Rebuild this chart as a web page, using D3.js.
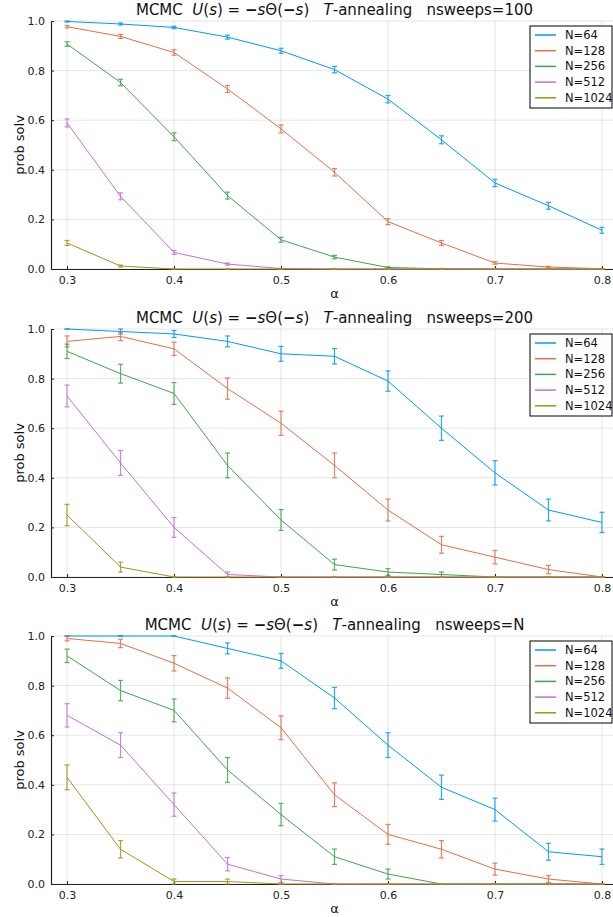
<!DOCTYPE html>
<html>
<head>
<meta charset="utf-8">
<script src="https://cdnjs.cloudflare.com/ajax/libs/d3/7.8.5/d3.min.js"></script>
<style>
  body { margin: 0; background: #fff; }
  svg { font-family: "DejaVu Sans", sans-serif; }
</style>
</head>
<body>
<div id="chart"></div>
<script>
// ---------------- data ----------------
const alphas = [0.3, 0.35, 0.4, 0.45, 0.5, 0.55, 0.6, 0.65, 0.7, 0.75, 0.8];
const seriesNames = ["N=64", "N=128", "N=256", "N=512", "N=1024"];
const sweepLabels = ["100", "200", "N"];

// nsweeps=100
const p100_64   = [0.998, 0.988, 0.974, 0.935, 0.880, 0.804, 0.685, 0.521, 0.347, 0.255, 0.156];
const p100_128  = [0.977, 0.938, 0.873, 0.726, 0.565, 0.390, 0.191, 0.105, 0.024, 0.008, 0.001];
const p100_256  = [0.907, 0.752, 0.533, 0.296, 0.118, 0.048, 0.006, 0.001, 0, 0, 0];
const p100_512  = [0.589, 0.293, 0.067, 0.020, 0.002, 0, 0, 0, 0, 0, 0];
const p100_1024 = [0.105, 0.012, 0, 0, 0, 0, 0, 0, 0, 0, 0];
const e100_64   = [0.002, 0.004, 0.005, 0.008, 0.010, 0.013, 0.015, 0.016, 0.015, 0.014, 0.012];
const e100_128  = [0.005, 0.008, 0.011, 0.014, 0.016, 0.015, 0.012, 0.010, 0.005, 0.003, 0.001];
const e100_256  = [0.009, 0.013, 0.016, 0.014, 0.010, 0.007, 0.002, 0.001, 0, 0, 0];
const e100_512  = [0.016, 0.014, 0.008, 0.004, 0.001, 0, 0, 0, 0, 0, 0];
const e100_1024 = [0.010, 0.004, 0, 0, 0, 0, 0, 0, 0, 0, 0];

// nsweeps=200
const p200_64   = [1.00, 0.99, 0.98, 0.95, 0.90, 0.89, 0.79, 0.60, 0.42, 0.27, 0.22];
const p200_128  = [0.95, 0.97, 0.92, 0.76, 0.62, 0.45, 0.27, 0.13, 0.08, 0.03, 0.00];
const p200_256  = [0.91, 0.82, 0.74, 0.45, 0.23, 0.05, 0.02, 0.01, 0, 0, 0];
const p200_512  = [0.73, 0.46, 0.20, 0.01, 0, 0, 0, 0, 0, 0, 0];
const p200_1024 = [0.25, 0.04, 0, 0, 0, 0, 0, 0, 0, 0, 0];
const e200_64   = [0, 0.010, 0.014, 0.022, 0.030, 0.031, 0.041, 0.049, 0.049, 0.044, 0.041];
const e200_128  = [0.022, 0.017, 0.027, 0.043, 0.049, 0.050, 0.044, 0.034, 0.027, 0.017, 0];
const e200_256  = [0.029, 0.038, 0.044, 0.050, 0.042, 0.022, 0.014, 0.010, 0, 0, 0];
const e200_512  = [0.044, 0.050, 0.040, 0.010, 0, 0, 0, 0, 0, 0, 0];
const e200_1024 = [0.043, 0.020, 0, 0, 0, 0, 0, 0, 0, 0, 0];

// nsweeps=N
const pN_64   = [1.00, 1.00, 1.00, 0.95, 0.90, 0.75, 0.56, 0.39, 0.30, 0.13, 0.11];
const pN_128  = [0.99, 0.97, 0.89, 0.79, 0.63, 0.36, 0.20, 0.14, 0.06, 0.02, 0.00];
const pN_256  = [0.92, 0.78, 0.70, 0.46, 0.28, 0.11, 0.04, 0, 0, 0, 0];
const pN_512  = [0.68, 0.56, 0.32, 0.08, 0.02, 0, 0, 0, 0, 0, 0];
const pN_1024 = [0.43, 0.14, 0.01, 0.01, 0, 0, 0, 0, 0, 0, 0];
const eN_64   = [0, 0, 0, 0.022, 0.030, 0.043, 0.050, 0.049, 0.046, 0.034, 0.031];
const eN_128  = [0.010, 0.017, 0.031, 0.041, 0.048, 0.048, 0.040, 0.035, 0.024, 0.014, 0];
const eN_256  = [0.027, 0.041, 0.046, 0.050, 0.045, 0.031, 0.020, 0, 0, 0, 0];
const eN_512  = [0.047, 0.050, 0.047, 0.027, 0.014, 0, 0, 0, 0, 0, 0];
const eN_1024 = [0.050, 0.035, 0.010, 0.010, 0, 0, 0, 0, 0, 0, 0];

const xTicks = [0.3, 0.4, 0.5, 0.6, 0.7, 0.8];
const yTicks = [0, 0.2, 0.4, 0.6, 0.8, 1.0];

// ---------------- layout ----------------
const W = 613, H = 917;
const left = 51, right = 618;
const plotH = 248;
const panelTops = [21, 329, 636];
const colors = ["#009AFA", "#E36F47", "#3EA44E", "#C371D2", "#AC8E18"];

const panels = [
  { sweeps: sweepLabels[0], p: [p100_64, p100_128, p100_256, p100_512, p100_1024], e: [e100_64, e100_128, e100_256, e100_512, e100_1024] },
  { sweeps: sweepLabels[1], p: [p200_64, p200_128, p200_256, p200_512, p200_1024], e: [e200_64, e200_128, e200_256, e200_512, e200_1024] },
  { sweeps: sweepLabels[2], p: [pN_64, pN_128, pN_256, pN_512, pN_1024], e: [eN_64, eN_128, eN_256, eN_512, eN_1024] }
];

const svg = d3.select("#chart").append("svg")
  .attr("width", W).attr("height", H);

const x = d3.scaleLinear().domain([0.285, 0.815]).range([left, right]);

panels.forEach(function (panel, pi) {
  const top = panelTops[pi];
  const y = d3.scaleLinear().domain([0, 1]).range([top + plotH, top]);
  const g = svg.append("g");

  // grid
  g.append("g").selectAll("line").data(xTicks).enter().append("line")
    .attr("x1", d => x(d)).attr("x2", d => x(d))
    .attr("y1", top).attr("y2", top + plotH)
    .attr("stroke", "#000").attr("stroke-opacity", 0.1).attr("stroke-width", 1);
  g.append("g").selectAll("line").data(yTicks).enter().append("line")
    .attr("x1", left).attr("x2", right)
    .attr("y1", d => y(d)).attr("y2", d => y(d))
    .attr("stroke", "#000").attr("stroke-opacity", 0.1).attr("stroke-width", 1);

  // axes
  const xAxis = d3.axisBottom(x).tickValues(xTicks).tickFormat(d3.format(".1f")).tickSizeInner(-3).tickSizeOuter(0).tickPadding(7);
  const yAxis = d3.axisLeft(y).tickValues(yTicks).tickFormat(d3.format(".1f")).tickSizeInner(-3).tickSizeOuter(0).tickPadding(6);
  const gx = g.append("g").attr("transform", "translate(0," + (top + plotH) + ")").call(xAxis);
  const gy = g.append("g").attr("transform", "translate(" + left + ",0)").call(yAxis);
  [gx, gy].forEach(function (a) {
    a.select(".domain").attr("stroke", "#222").attr("stroke-width", 1.2);
    a.selectAll(".tick line").attr("stroke", "#222");
    a.selectAll("text").attr("font-size", 11).attr("fill", "#222")
      .attr("font-family", "DejaVu Sans, sans-serif");
  });

  // series
  const line = d3.line().x((d, i) => x(alphas[i])).y(d => y(d));
  panel.p.forEach(function (vals, si) {
    const c = colors[si];
    const sg = g.append("g");
    sg.append("path").datum(vals)
      .attr("d", line).attr("fill", "none").attr("stroke", c).attr("stroke-width", 1);
    const errs = panel.e[si];
    const eb = sg.selectAll(".eb").data(vals).enter().append("g")
      .attr("stroke", c).attr("stroke-opacity", 0.85).attr("stroke-width", 1.2);
    eb.append("line")
      .attr("x1", (d, i) => x(alphas[i])).attr("x2", (d, i) => x(alphas[i]))
      .attr("y1", (d, i) => y(d - errs[i])).attr("y2", (d, i) => y(d + errs[i]));
    eb.append("line")
      .attr("x1", (d, i) => x(alphas[i]) - 2.5).attr("x2", (d, i) => x(alphas[i]) + 2.5)
      .attr("y1", (d, i) => y(d - errs[i])).attr("y2", (d, i) => y(d - errs[i]));
    eb.append("line")
      .attr("x1", (d, i) => x(alphas[i]) - 2.5).attr("x2", (d, i) => x(alphas[i]) + 2.5)
      .attr("y1", (d, i) => y(d + errs[i])).attr("y2", (d, i) => y(d + errs[i]));
  });

  // title
  const t = g.append("text")
    .attr("x", (left + right) / 2).attr("y", top - 6)
    .attr("text-anchor", "middle").attr("font-size", 15).attr("fill", "#111");
  const parts = [["MCMC  ", false], ["U", true], ["(", false], ["s", true], [") = ", false],
                 ["\u2212", false, true], ["s", true], ["\u0398(", false], ["\u2212", false, true], ["s", true],
                 [")   ", false], ["T", true], ["-annealing   nsweeps=" + panel.sweeps, false]];
  parts.forEach(function (p) {
    t.append("tspan").text(p[0])
      .attr("font-style", p[1] ? "italic" : "normal")
      .attr("font-weight", p[2] ? "bold" : "normal")
      .attr("xml:space", "preserve");
  });
  t.attr("xml:space", "preserve");

  // axis labels
  g.append("text").attr("x", (left + right) / 2).attr("y", top + plotH + 29)
    .attr("text-anchor", "middle").attr("font-size", 13).attr("fill", "#111").text("\u03b1");
  g.append("text")
    .attr("transform", "translate(24," + (top + plotH / 2) + ") rotate(-90)")
    .attr("text-anchor", "middle").attr("font-size", 13).attr("fill", "#111").text("prob solv");

  // legend
  const lx = 530, ly = top + 5;
  const leg = g.append("g");
  leg.append("rect").attr("x", lx).attr("y", ly).attr("width", 82).attr("height", 82)
    .attr("fill", "#fff").attr("stroke", "#000").attr("stroke-width", 1);
  seriesNames.forEach(function (name, si) {
    const yy = ly + 9 + si * 15.7;
    leg.append("line").attr("x1", lx + 5).attr("x2", lx + 26)
      .attr("y1", yy).attr("y2", yy).attr("stroke", colors[si]).attr("stroke-width", 1.5);
    leg.append("text").attr("x", lx + 35).attr("y", yy + 4)
      .attr("font-size", 11.5).attr("fill", "#111").text(name);
  });
});
</script>
</body>
</html>
